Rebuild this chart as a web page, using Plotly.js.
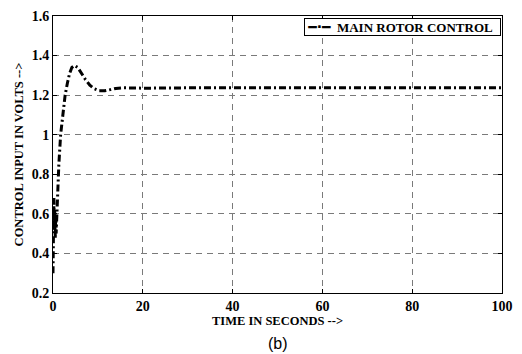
<!DOCTYPE html>
<html>
<head>
<meta charset="utf-8">
<script src="https://cdn.plot.ly/plotly-3.0.1.min.js"></script>
<style>
  html, body { margin: 0; padding: 0; background: #fff; }
  #chart { width: 522px; height: 354px; }
</style>
</head>
<body>
<div id="chart"></div>
<script>
// Main rotor control input (volts) against time (seconds)
const timeSec = [0, 0.1, 0.2, 0.3, 0.4, 0.5, 0.6, 0.7, 0.8, 0.9, 1.0, 1.3, 1.7, 2.2, 2.7,
  3.2, 3.7, 4.2, 4.8, 5.5, 6.3, 7.2, 8.2, 9.2, 10.3, 11.5, 12.8, 14.0, 15.5, 17.0,
  18.5, 20, 22, 25, 30, 40, 50, 60, 70, 80, 90, 100];
const controlVolts = [0.30, 0.55, 0.68, 0.52, 0.62, 0.48, 0.60, 0.50, 0.58, 0.55, 0.72, 0.85, 1.00, 1.12, 1.20,
  1.26, 1.31, 1.34, 1.35, 1.34, 1.31, 1.28, 1.25, 1.232, 1.222, 1.222, 1.228, 1.234, 1.237, 1.238,
  1.236, 1.235, 1.236, 1.237, 1.237, 1.237, 1.237, 1.237, 1.237, 1.237, 1.237, 1.237];
const seriesName = 'MAIN ROTOR CONTROL';
const xTicks = [0, 20, 40, 60, 80, 100];
const yTicks = [0.2, 0.4, 0.6, 0.8, 1, 1.2, 1.4, 1.6];

const serif = '"Liberation Serif", "Times New Roman", Times, serif';
const bold = s => '<b>' + s + '</b>';

const trace = {
  x: timeSec,
  y: controlVolts,
  type: 'scatter',
  mode: 'lines',
  name: seriesName,
  showlegend: false,
  line: { color: '#000', width: 3, dash: '7px,3px,2px,3px' }
};

const axisCommon = {
  showline: true,
  linecolor: '#000',
  linewidth: 1,
  mirror: 'ticks',
  ticks: 'inside',
  ticklen: 4,
  tickcolor: '#000',
  showgrid: true,
  gridcolor: '#7a7a7a',
  gridwidth: 1,
  griddash: '6px,5px',
  zeroline: false,
  tickfont: { family: serif, size: 14, color: '#000', weight: 700 }
};

// Compact boxed key in the top-right corner: dash-dot glyph + series name
const keyText = '&nbsp;<span style="font-family:DejaVu Sans;font-size:14px">━·━</span>&nbsp;&nbsp;' + bold(seriesName);

const layout = {
  width: 522,
  height: 354,
  margin: { l: 53, r: 20, t: 16, b: 61 },
  paper_bgcolor: '#fff',
  plot_bgcolor: '#fff',
  font: { family: serif, color: '#000', weight: 700 },
  showlegend: false,
  xaxis: Object.assign({}, axisCommon, {
    range: [0, 100],
    tickvals: xTicks,
    ticktext: xTicks.map(v => bold(String(v))),
    title: { text: bold('TIME IN SECONDS -->'), font: { family: serif, size: 12.5, color: '#000', weight: 700 }, standoff: 3 }
  }),
  yaxis: Object.assign({}, axisCommon, {
    range: [0.2, 1.6],
    tickvals: yTicks,
    ticktext: yTicks.map(v => bold(String(v))),
    title: { text: bold('CONTROL INPUT IN VOLTS -->'), font: { family: serif, size: 12.5, color: '#000', weight: 700 }, standoff: 5 }
  }),
  annotations: [{
    text: keyText,
    xref: 'paper', yref: 'paper',
    x: 1, y: 1,
    xanchor: 'right', yanchor: 'top',
    xshift: -1, yshift: -2,
    showarrow: false,
    align: 'left',
    bgcolor: '#fff',
    bordercolor: '#000',
    borderwidth: 1,
    borderpad: 0,
    width: 195,
    font: { family: serif, size: 13, color: '#000', weight: 700 }
  }, {
    text: '(b)',
    xref: 'paper', yref: 'paper',
    x: 0.5, y: -0.184,
    xanchor: 'center', yanchor: 'middle',
    showarrow: false,
    font: { family: '"Liberation Sans", Arial, sans-serif', size: 16, color: '#000', weight: 400 }
  }]
};

Plotly.newPlot('chart', [trace], layout, { displayModeBar: false, staticPlot: true });
</script>
</body>
</html>
